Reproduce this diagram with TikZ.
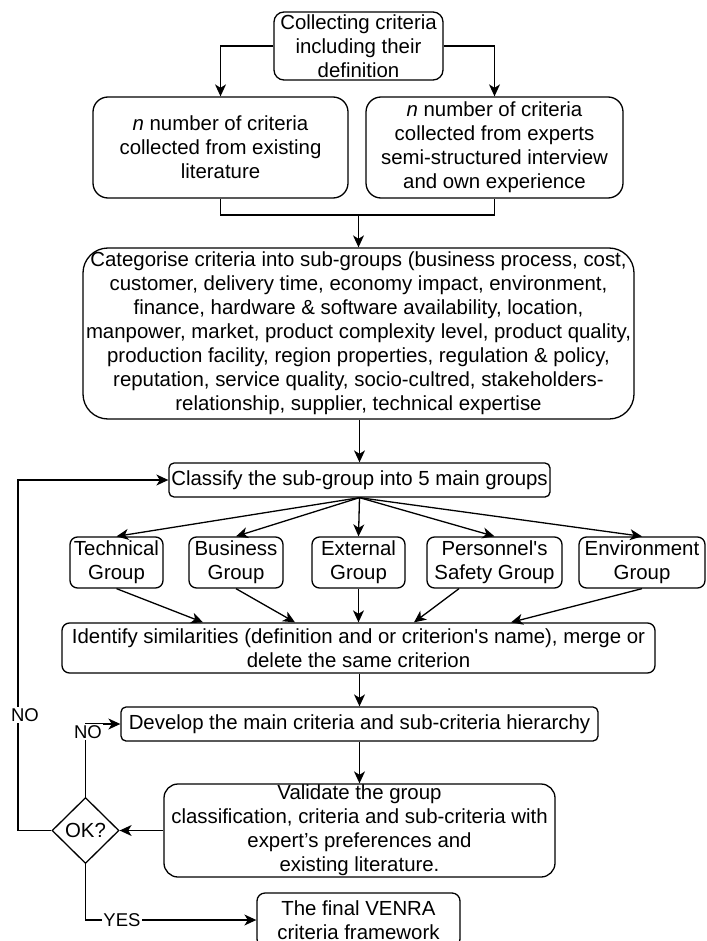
\documentclass[tikz,border=0pt]{standalone}
\usepackage{fontspec}
\setmainfont{Liberation Sans}
\usetikzlibrary{arrows.meta,shapes.geometric,calc}
\begin{document}
\begin{tikzpicture}[x=1pt,y=-1pt,
  line width=1.3pt,
  arr/.style={-{Stealth[length=12pt,width=11pt,inset=3.5pt]}},
  box/.style={draw, align=center, inner sep=0pt, fill=white,
    font={\fontsize{20.4}{24}\selectfont}},
  lbl/.style={fill=white, inner sep=1.5pt, font={\fontsize{18.5}{21}\selectfont}}
]
\useasboundingbox (0,0) rectangle (706,941);

\node[box, rounded corners=10pt, minimum width=169pt, minimum height=68pt] (top) at (358.5,46)
  {Collecting criteria\\including their\\definition};
\node[box, rounded corners=15pt, minimum width=255pt, minimum height=101pt] (lit) at (220.5,147.5)
  {\textit{n} number of criteria\\collected from existing\\literature};
\node[box, rounded corners=15pt, minimum width=257pt, minimum height=101pt] (exp) at (494.5,147.5)
  {\textit{n} number of criteria\\collected from experts\\semi-structured interview\\and own experience};
\node[box, rounded corners=25pt, minimum width=551pt, minimum height=171pt] (cat) at (358.5,333.5)
  {Categorise criteria into sub-groups (business process, cost,\\
   customer, delivery time, economy impact, environment,\\
   finance, hardware \& software availability, location,\\
   manpower, market, product complexity level, product quality,\\
   production facility, region properties, regulation \& policy,\\
   reputation, service quality, socio-cultred, stakeholders-\\
   relationship, supplier, technical expertise};
\node[box, rounded corners=5pt, minimum width=381pt, minimum height=34pt] (cls) at (359.5,480)
  {Classify the sub-group into 5 main groups};

\node[box, rounded corners=7.5pt, minimum width=93pt, minimum height=51pt] (tech) at (116.5,562.5) {Technical\\Group};
\node[box, rounded corners=7.5pt, minimum width=94pt, minimum height=51pt] (bus) at (236,562.5) {Business\\Group};
\node[box, rounded corners=7.5pt, minimum width=93pt, minimum height=51pt] (ext) at (358.5,562.5) {External\\Group};
\node[box, rounded corners=7.5pt, minimum width=135pt, minimum height=51pt] (pers) at (494.5,562.5) {Personnel\textquotesingle s\\Safety Group};
\node[box, rounded corners=7.5pt, minimum width=126pt, minimum height=51pt] (env) at (642,562.5) {Environment\\Group};

\node[box, rounded corners=7.5pt, minimum width=593pt, minimum height=50pt] (ident) at (358.5,648)
  {Identify similarities (definition and or criterion\textquotesingle s name), merge or\\delete the same criterion};
\node[box, rounded corners=5pt, minimum width=477pt, minimum height=34pt] (dev) at (359.5,724)
  {Develop the main criteria and sub-criteria hierarchy};
\node[box, rounded corners=14pt, minimum width=391pt, minimum height=93pt] (val) at (359.5,830.5)
  {Validate the group\\classification, criteria and sub-criteria with\\expert’s preferences and\\existing literature.};
\node[box, shape=diamond, minimum width=67pt, minimum height=66pt] (ok) at (85.5,830.5) {OK?};
\node[box, rounded corners=8pt, minimum width=203pt, minimum height=54pt] (fin) at (358.5,920)
  {The final VENRA\\criteria framework};

% top splits
\draw[arr] (top.west) -| (lit.north);
\draw[arr] (top.east) -| (exp.north);
\coordinate (j) at (358.5,215);
\draw (lit.south) |- (j) -| (exp.south);
\draw[arr] (j) -- (cat.north);
\draw[arr] (cat.south -| cls.north) -- (cls.north);

% classify to groups
\foreach \g in {tech,bus,ext,pers,env} \draw[arr] (cls.south) -- (\g.north);

% groups to identify
\draw[arr] (tech.south) -- ([xshift=-155.5pt]ident.north);
\draw[arr] (bus.south) -- ([xshift=-63.5pt]ident.north);
\draw[arr] (ext.south) -- (ident.north);
\draw[arr] ([xshift=-35.5pt]pers.south) -- ([xshift=55.5pt]ident.north);
\draw[arr] (env.south) -- ([xshift=152.5pt]ident.north);

\draw[arr] (ident.south -| dev.north) -- (dev.north);
\draw[arr] (dev.south) -- (val.north);
\draw[arr] (val.west) -- (ok.east);

% feedback loops
\coordinate (lc) at (18,830.5);
\coordinate (lt) at (18,480);
\draw[arr] (ok.west) -- (lc) -- (lt) -- (cls.west);
\node[lbl] (no1) at (25,715) {NO};
\draw[arr] (ok.north) |- (dev.west);
\node[lbl] (no2) at (88,732) {NO};
\draw[arr] (ok.south) |- (fin.west);
\node[lbl] (yes) at (122,920) {YES};
\end{tikzpicture}
\end{document}
